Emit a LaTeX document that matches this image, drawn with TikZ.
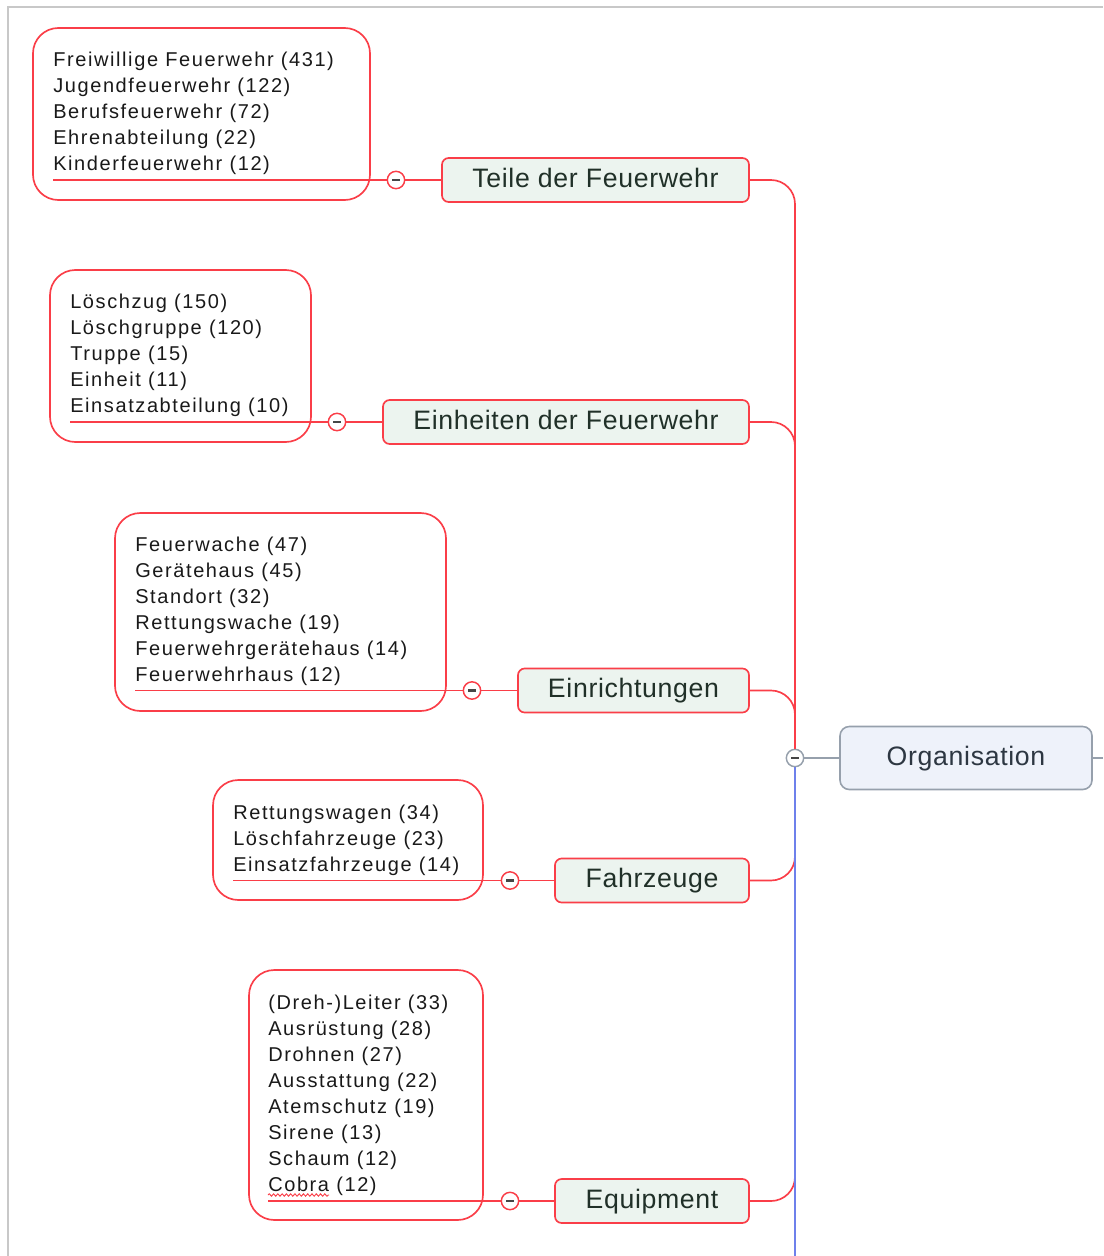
\documentclass[tikz,border=0pt]{standalone}
\usepackage{fontspec}
\setmainfont{Liberation Sans}
\newfontfamily\topicfont[LetterSpace=2.5]{Liberation Sans}
\newfontfamily\itemfont[LetterSpace=8]{Liberation Sans}
\usetikzlibrary{decorations.pathmorphing}

\definecolor{fr}{RGB}{250,62,72}
\definecolor{topicfill}{RGB}{236,244,239}
\definecolor{topictext}{RGB}{32,48,40}
\definecolor{orgfill}{RGB}{238,242,250}
\definecolor{orgdraw}{RGB}{150,160,172}
\definecolor{orgtext}{RGB}{45,55,66}
\definecolor{itemtext}{RGB}{25,25,25}
\definecolor{spineblue}{RGB}{110,128,235}
\definecolor{framegray}{RGB}{200,200,200}
\definecolor{minusgray}{RGB}{70,70,70}

\begin{document}
\begin{tikzpicture}[x=0.75pt,y=-0.75pt,
  frame/.style={draw=framegray, line width=1.2pt},
  listbox/.style={draw=fr, line width=1.25pt, rounded corners=19pt, inner sep=0},
  topic/.style={draw=fr, line width=1.25pt, fill=topicfill, rounded corners=5pt,
    font=\topicfont\fontsize{20pt}{24pt}\selectfont, text=topictext,
    text height=14.5pt, text depth=4pt, inner sep=0, minimum height=33pt},
  orgbox/.style={draw=orgdraw, line width=1.2pt, fill=orgfill, rounded corners=7pt,
    font=\topicfont\fontsize{20pt}{24pt}\selectfont, text=orgtext,
    text height=14.5pt, text depth=4pt, inner sep=0,
    minimum width=189pt, minimum height=47.25pt},
  item/.style={font=\itemfont\fontsize{15pt}{18pt}\selectfont, text=itemtext,
    anchor=base west, inner sep=0},
  toggle/.style={circle, draw=fr, fill=white, line width=1.1pt, minimum size=13pt, inner sep=0},
  hub/.style={circle, draw=orgdraw, fill=white, line width=1.1pt, minimum size=13pt, inner sep=0},
  conn/.style={draw=fr, line width=1.25pt},
  spine/.style={conn, rounded corners=18pt},
  grayconn/.style={draw=orgdraw, line width=1.2pt},
  blueline/.style={draw=spineblue, line width=1.5pt},
  wavy/.style={draw=fr, line width=0.7pt, decorate,
    decoration={snake, amplitude=0.9pt, segment length=3.2pt}}
]
\useasboundingbox (0,0) rectangle (1103,1256);
\newcommand{\minussign}{{\color{minusgray}\rule{6pt}{1.7pt}}}

% window frame
\coordinate (fa) at (8,1256);
\coordinate (fb) at (8,7);
\coordinate (fc) at (1103,7);
\draw[frame] (fa) -- (fb) -- (fc);

% boxes around the detail lists
\node[listbox, minimum width=252.75pt, minimum height=129pt] (l1) at (201.5,114) {};
\node[listbox, minimum width=195.75pt, minimum height=129pt] (l2) at (180.5,356) {};
\node[listbox, minimum width=248.25pt, minimum height=148.5pt] (l3) at (280.5,612) {};
\node[listbox, minimum width=202.5pt, minimum height=90pt] (l4) at (348,840) {};
\node[listbox, minimum width=175.5pt, minimum height=187.5pt] (l5) at (366,1095) {};

% central topic and its hub
\node[orgbox] (org) at (966,758) {Organisation};
\node[hub] (c0) at (795,758) {\minussign};

% main topics
\node[topic, minimum width=230.25pt] (t1) at (595.5,180) {Teile der Feuerwehr};
\node[topic, minimum width=274.5pt] (t2) at (566,422) {Einheiten der Feuerwehr};
\node[topic, minimum width=173.25pt] (t3) at (633.5,690.5) {Einrichtungen};
\node[topic, minimum width=145.5pt] (t4) at (652,880.5) {Fahrzeuge};
\node[topic, minimum width=145.5pt] (t5) at (652,1201) {Equipment};

% collapse toggles
\node[toggle] (c1) at (396,180) {\minussign};
\node[toggle] (c2) at (337,422) {\minussign};
\node[toggle] (c3) at (472,690.5) {\minussign};
\node[toggle] (c4) at (510,880.5) {\minussign};
\node[toggle] (c5) at (510,1201) {\minussign};

% detail lists
\foreach \t [count=\i] in {{Freiwillige Feuerwehr (431)},{Jugendfeuerwehr (122)},
  {Berufsfeuerwehr (72)},{Ehrenabteilung (22)},{Kinderfeuerwehr (12)}}
  \node[item] (a\i) at (53,{66.5+26*(\i-1)}) {\t};
\foreach \t [count=\i] in {{Löschzug (150)},{Löschgruppe (120)},{Truppe (15)},
  {Einheit (11)},{Einsatzabteilung (10)}}
  \node[item] (b\i) at (70,{308+26*(\i-1)}) {\t};
\foreach \t [count=\i] in {{Feuerwache (47)},{Gerätehaus (45)},{Standort (32)},
  {Rettungswache (19)},{Feuerwehrgerätehaus (14)},{Feuerwehrhaus (12)}}
  \node[item] (d\i) at (135,{551+26*(\i-1)}) {\t};
\foreach \t [count=\i] in {{Rettungswagen (34)},{Löschfahrzeuge (23)},{Einsatzfahrzeuge (14)}}
  \node[item] (f\i) at (233,{819+26*(\i-1)}) {\t};
\foreach \t [count=\i] in {{(Dreh-)Leiter (33)},{Ausrüstung (28)},{Drohnen (27)},
  {Ausstattung (22)},{Atemschutz (19)},{Sirene (13)},{Schaum (12)},{Cobra (12)}}
  \node[item] (e\i) at (268,{1009+26*(\i-1)}) {\t};

% spell-check mark under "Cobra"
\draw[wavy] (e8.base west) ++(0,4) -- ++(61,0);

% underlines of the lists
\coordinate (u1) at (53,180);
\coordinate (u2) at (70,422);
\coordinate (u3) at (135,690.5);
\coordinate (u4) at (233,880.5);
\coordinate (u5) at (268,1201);
\foreach \k in {1,...,5}{
  \draw[conn] (u\k) -- (c\k.west);
  \draw[conn] (c\k.east) -- (t\k.west);
}

% branches into the spine
\draw[spine] (t1.east) -| (c0.north);
\draw[spine] (t2.east) -| (c0.north);
\draw[spine] (t3.east) -| (c0.north);
\draw[spine] (t4.east) -| (c0.south);
\draw[spine] (t5.east) -| (c0.south);

% link to the central topic
\coordinate (bot) at (795,1256);
\draw[blueline] (c0.south) -- (bot);
\draw[grayconn] (c0.east) -- (org.west);
\coordinate (edge) at (1103,758);
\draw[grayconn] (org.east) -- (edge);
\end{tikzpicture}
\end{document}
